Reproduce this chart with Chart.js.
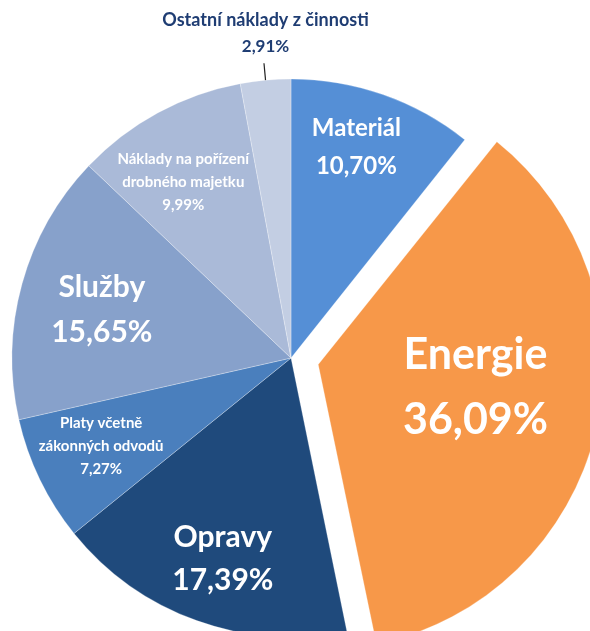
<!DOCTYPE html>
<html>
<head>
<meta charset="utf-8">
<script src="https://cdn.jsdelivr.net/npm/chart.js@4/dist/chart.umd.min.js"></script>
<style>
  html, body { margin: 0; padding: 0; background: #fff; }
  #wrap { width: 590px; height: 631px; }
</style>
</head>
<body>
<div id="wrap"><canvas id="pie"></canvas></div>
<script>
const labels = [
  ['Materiál'],
  ['Energie'],
  ['Opravy'],
  ['Platy včetně', 'zákonných odvodů'],
  ['Služby'],
  ['Náklady na pořízení', 'drobného majetku'],
  ['Ostatní náklady z činnosti']
];
const shares = [10.70, 36.09, 17.39, 7.27, 15.65, 9.99, 2.91];
const colors = ['#558fd6', '#f79849', '#1f4a7c', '#4a7fbd', '#87a1cb', '#aabad8', '#c3cee3'];
// Chart.js v4 moves an arc by offset / 4, so 112 -> ~28px
const offsets = [0, 112, 0, 0, 0, 0, 0];

// label look per slice: radius fraction, angle shift (deg), font size, line gap
const labelStyle = [
  { r: 0.79, da: -2, size: 24, gap: 38 },
  { r: 0.57, da: -5, size: 43, gap: 65 },
  { r: 0.76, da: -1, size: 30, gap: 43 },
  { r: 0.75, da: 1,  size: 15, gap: 23 },
  { r: 0.70, da: -1, size: 30, gap: 45 },
  { r: 0.74, da: -3, size: 15, gap: 23 },
  null
];

const fmt = v => v.toFixed(2).replace('.', ',') + '%';
const FONT = 'Lato, "Open Sans", sans-serif';

const sliceLabels = {
  id: 'sliceLabels',
  afterDatasetsDraw(chart) {
    const ctx = chart.ctx;
    const arcs = chart.getDatasetMeta(0).data;
    ctx.save();
    ctx.textAlign = 'center';
    ctx.textBaseline = 'middle';
    arcs.forEach((arc, i) => {
      const mid = (arc.startAngle + arc.endAngle) / 2;
      const off = offsets[i] / 4;
      const cx = arc.x + Math.cos(mid) * off;
      const cy = arc.y + Math.sin(mid) * off;
      const st = labelStyle[i];
      if (!st) {
        // outside label with leader line
        const R = arc.outerRadius;
        ctx.strokeStyle = '#222';
        ctx.lineWidth = 1.2;
        ctx.beginPath();
        ctx.moveTo(cx + Math.cos(mid) * R, cy + Math.sin(mid) * R);
        ctx.lineTo(cx + Math.cos(mid) * (R + 17), cy + Math.sin(mid) * (R + 17));
        ctx.stroke();
        const tx = cx + Math.cos(mid) * R;
        ctx.fillStyle = '#1f3d73';
        ctx.font = '700 17px ' + FONT;
        ctx.fillText(fmt(shares[i]), tx, cy - 311);
        ctx.font = '700 18px ' + FONT;
        ctx.fillText(labels[i][0], tx, cy - 338);
        return;
      }
      const a = mid + st.da * Math.PI / 180;
      const px = cx + Math.cos(a) * arc.outerRadius * st.r;
      const py = cy + Math.sin(a) * arc.outerRadius * st.r;
      const lines = labels[i].concat([fmt(shares[i])]);
      const top = py - st.gap * (lines.length - 1) / 2;
      ctx.fillStyle = '#fff';
      ctx.font = '700 ' + st.size + 'px ' + FONT;
      lines.forEach((t, k) => ctx.fillText(t, px, top + k * st.gap));
    });
    ctx.restore();
  }
};

new Chart(document.getElementById('pie'), {
  type: 'pie',
  data: {
    labels: labels.map(l => l.join(' ')),
    datasets: [{
      data: shares,
      backgroundColor: colors,
      borderColor: 'rgba(255,255,255,0.35)',
      borderWidth: 0.8,
      offset: offsets,
      radius: 279,
      clip: false
    }]
  },
  options: {
    responsive: true,
    maintainAspectRatio: false,
    animation: false,
    layout: { padding: { top: 85, right: 8, left: 0, bottom: 0 } },
    plugins: {
      legend: { display: false },
      tooltip: { enabled: false }
    }
  },
  plugins: [sliceLabels]
});
</script>
</body>
</html>
